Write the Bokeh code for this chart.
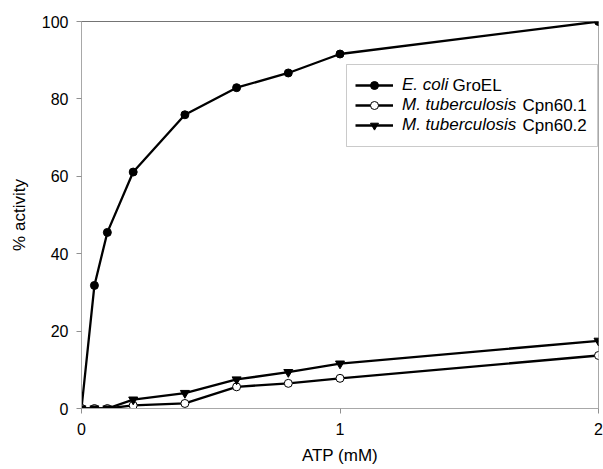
from bokeh.plotting import figure
from bokeh.models import (Legend, LegendItem, BoxAnnotation, Label, Span,
                          FixedTicker, ColumnDataSource, Range1d)
from bokeh.embed import file_html
from bokeh.resources import INLINE

# ---- data ----
atp_mM = [0, 0.05, 0.1, 0.2, 0.4, 0.6, 0.8, 1, 2]
ecoli_groel = [0, 31.8, 45.5, 61.1, 75.9, 82.9, 86.7, 91.6, 100]
mtb_cpn601 = [0, 0, 0, 0.8, 1.3, 5.6, 6.5, 7.8, 13.7]
mtb_cpn602 = [0, 0, 0, 2.3, 4.0, 7.5, 9.4, 11.6, 17.5]

x_ticks = [0, 1, 2]
y_ticks = [0, 20, 40, 60, 80, 100]

legend_italic = ["E. coli", "M. tuberculosis", "M. tuberculosis"]
legend_plain = ["GroEL", "Cpn60.1", "Cpn60.2"]

FONT = "Liberation Sans"

src = ColumnDataSource(dict(x=atp_mM, e=ecoli_groel, c1=mtb_cpn601, c2=mtb_cpn602))

p = figure(width=603, height=469, output_backend="svg", toolbar_location=None,
           x_range=Range1d(0, 2), y_range=Range1d(0, 100),
           min_border_left=81, min_border_right=5, min_border_top=21,
           min_border_bottom=61)
p.background_fill_color = "white"
p.border_fill_color = "white"
p.outline_line_color = "#a8a8a8"
p.xgrid.visible = False
p.ygrid.visible = False

for ax in (p.xaxis[0], p.yaxis[0]):
    ax.axis_line_color = "#a8a8a8"
    ax.major_tick_line_color = "#909090"
    ax.minor_tick_line_color = None
    ax.major_tick_in = 0
    ax.major_tick_out = 5
    ax.major_label_text_font = FONT
    ax.major_label_text_font_size = "16px"
    ax.major_label_text_color = "black"
    ax.axis_label_text_font = FONT
    ax.axis_label_text_font_size = "17px"
    ax.axis_label_text_font_style = "normal"
    ax.axis_label_text_color = "black"

p.xaxis.ticker = FixedTicker(ticks=x_ticks)
p.yaxis.ticker = FixedTicker(ticks=y_ticks)
p.xaxis.axis_label = "ATP (mM)"
p.yaxis.axis_label = "% activity"
p.xaxis.major_label_standoff = 9
p.yaxis.major_label_standoff = 8
p.xaxis.axis_label_standoff = 8
p.yaxis.axis_label_standoff = 10

# top border darker
p.add_layout(Span(location=100, dimension="width", line_color="#404040", line_width=1))

lw = 2.3
l1 = p.line("x", "e", source=src, line_color="black", line_width=lw)
s1 = p.scatter("x", "e", source=src, marker="circle", size=8,
               fill_color="black", line_color="black")
l2 = p.line("x", "c1", source=src, line_color="black", line_width=lw)
s2 = p.scatter("x", "c1", source=src, marker="circle", size=8,
               fill_color="white", line_color="black", line_width=1)
l3 = p.line("x", "c2", source=src, line_color="black", line_width=lw)
s3 = p.scatter("x", "c2", source=src, marker="inverted_triangle", size=9,
               fill_color="black", line_color="black")

# legend box
box = BoxAnnotation(left=265, right=516, top=344, bottom=262,
                    left_units="screen", right_units="screen",
                    top_units="screen", bottom_units="screen",
                    fill_color="white", fill_alpha=1,
                    line_color="#505050", line_width=1)
p.add_layout(box)

legend = Legend(items=[
    LegendItem(label=legend_italic[0], renderers=[l1, s1]),
    LegendItem(label=legend_italic[1], renderers=[l2, s2]),
    LegendItem(label=legend_italic[2], renderers=[l3, s3]),
], location=(265, 264))
legend.margin = 0
legend.padding = 9
legend.spacing = 0
legend.label_height = 20
legend.glyph_height = 20
legend.glyph_width = 38
legend.label_standoff = 9
legend.label_text_font = FONT
legend.label_text_font_size = "17px"
legend.label_text_font_style = "italic"
legend.label_text_color = "black"
legend.border_line_alpha = 0
legend.background_fill_alpha = 0
p.add_layout(legend)

label_x = [371, 441, 441]
label_y = [323, 303, 283.5]
for t, lx, ly in zip(legend_plain, label_x, label_y):
    p.add_layout(Label(x=lx, y=ly, x_units="screen", y_units="screen", text=t,
                       text_font=FONT, text_font_size="17px",
                       text_baseline="middle", text_color="black"))

open("out.html", "w").write(file_html(p, INLINE))
